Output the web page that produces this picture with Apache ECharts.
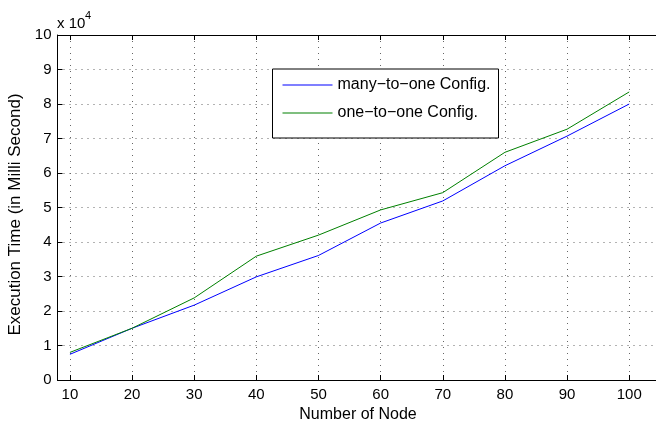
<!DOCTYPE html>
<html>
<head>
<meta charset="utf-8">
<script src="https://cdn.jsdelivr.net/npm/echarts@6/dist/echarts.min.js"></script>
<style>html,body{margin:0;padding:0;background:#fff}#c{width:656px;height:426px}</style>
</head>
<body>
<div id="c"></div>
<script>
var nodes = [10, 20, 30, 40, 50, 60, 70, 80, 90, 100];
var manyToOne = [7450, 15000, 21700, 29900, 36100, 45500, 51900, 62100, 70700, 80000];
var oneToOne = [8000, 15000, 23800, 35900, 42000, 49300, 54300, 66000, 72700, 83500];
var xTicks = [10, 20, 30, 40, 50, 60, 70, 80, 90, 100];
var seriesNames = ['many\u2212to\u2212one Config.', 'one\u2212to\u2212one Config.'];
var xTitle = 'Number of Node';
var yTitle = 'Execution Time (in Milli Second)';

var FONT = 'Liberation Sans, Arial, Helvetica, sans-serif';
function pairs(ys) { return nodes.map(function (x, i) { return [x, ys[i]]; }); }
var dotted = { color: '#666', width: 1, type: [1, 5] };

var chart = echarts.init(document.getElementById('c'), null, { renderer: 'canvas' });
chart.setOption({
  animation: false,
  backgroundColor: '#fff',
  textStyle: { fontFamily: FONT },
  grid: { left: 57.5, top: 35, width: 609, height: 345, outerBoundsMode: 'none', containLabel: false },
  graphic: [
    { type: 'text', left: 57, top: 16, style: { text: 'x 10', font: '15px ' + FONT, fill: '#000' } },
    { type: 'text', left: 85, top: 10, style: { text: '4', font: '11px ' + FONT, fill: '#000' } }
  ],
  legend: {
    orient: 'vertical', left: 272.5, top: 69,
    backgroundColor: '#fff', borderColor: '#000', borderWidth: 1,
    padding: [8, 5, 17, 10], itemGap: 12, itemWidth: 50, itemHeight: 1, itemTextGap: 6,
    icon: 'rect',
    textStyle: { fontSize: 16, color: '#000', width: 156, height: 16, lineHeight: 16, fontFamily: FONT },
    data: seriesNames
  },
  xAxis: [{
    type: 'value', min: 8, max: 106, position: 'bottom',
    name: xTitle, nameLocation: 'middle', nameGap: 25,
    nameTextStyle: { fontSize: 16, color: '#000', padding: [0, 8, 0, 0] },
    axisLine: { show: true, lineStyle: { color: '#000', width: 1 } },
    axisTick: { show: true, inside: true, length: 5, customValues: xTicks, lineStyle: { color: '#000' } },
    axisLabel: { customValues: xTicks, fontSize: 15, color: '#000', margin: 7 },
    splitLine: { show: true, lineStyle: dotted }
  }, {
    type: 'value', min: 8, max: 106, position: 'top',
    axisLine: { show: true, lineStyle: { color: '#000', width: 1 } },
    axisTick: { show: true, inside: true, length: 5, customValues: xTicks, lineStyle: { color: '#000' } },
    axisLabel: { show: false },
    splitLine: { show: false }
  }],
  yAxis: [{
    type: 'value', min: 0, max: 100000, interval: 10000,
    name: yTitle, nameLocation: 'middle', nameGap: 31, nameRotate: 90,
    nameTextStyle: { fontSize: 17, color: '#000', padding: [0, 14, 0, 0] },
    axisLine: { show: true, lineStyle: { color: '#000', width: 1 } },
    axisTick: { show: true, inside: true, length: 5, lineStyle: { color: '#000' } },
    axisLabel: { fontSize: 15, color: '#000', margin: 6, formatter: function (v) { return String(v / 10000); } },
    splitLine: { show: true, lineStyle: dotted }
  }],
  series: [{
    name: seriesNames[0], type: 'line', data: pairs(manyToOne),
    symbol: 'none', lineStyle: { color: '#0000ff', width: 1 }, itemStyle: { color: '#0000ff' }
  }, {
    name: seriesNames[1], type: 'line', data: pairs(oneToOne),
    symbol: 'none', lineStyle: { color: '#008000', width: 1 }, itemStyle: { color: '#008000' }
  }]
});
</script>
</body>
</html>
